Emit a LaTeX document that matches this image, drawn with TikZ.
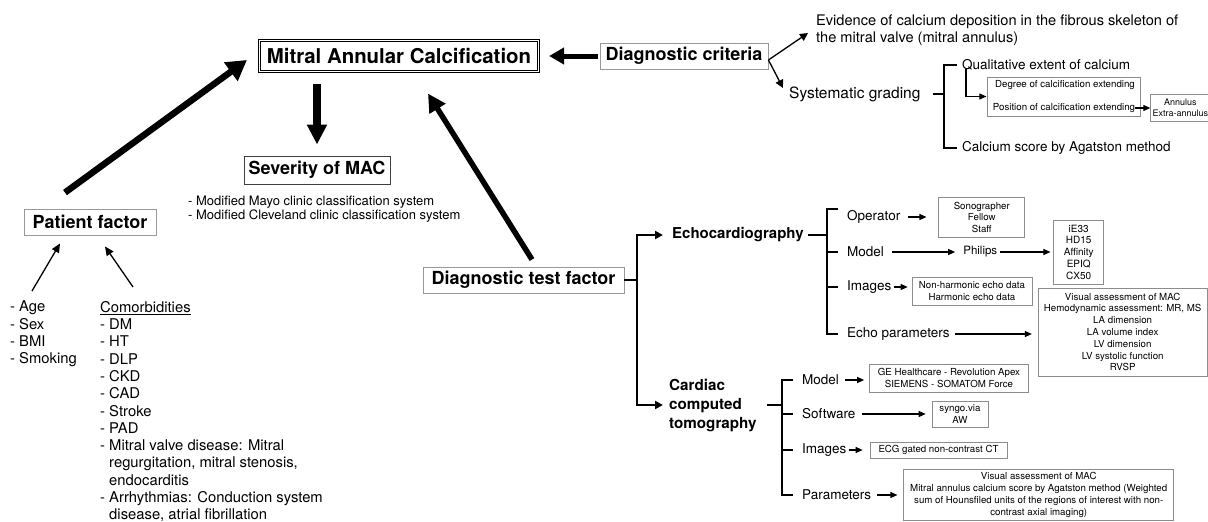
\documentclass[tikz,border=0pt]{standalone}
\usepackage{fontspec}
\setmainfont{TeX Gyre Heros}
\usetikzlibrary{arrows.meta, calc, fit, positioning}
\tikzstyle{mainbox}=[draw, double, line width=1.1pt, double distance=1.1pt, minimum width=279pt, minimum height=31pt, font=\bfseries\fontsize{20.4}{24}\selectfont]
\tikzstyle{factor}=[draw=black!40, line width=0.9pt, minimum height=26pt, inner sep=2pt, font=\bfseries\fontsize{18}{21}\selectfont]
\tikzstyle{txt}=[inner sep=2pt, font=\fontsize{13.5}{16}\selectfont]
\tikzstyle{listtxt}=[inner sep=0pt, align=left, font=\fontsize{14.8}{17.3}\selectfont]
\tikzstyle{small}=[font=\fontsize{9.7}{11.5}\selectfont]
\tikzstyle{infobox}=[small, draw=black!45, line width=0.6pt, align=center, inner sep=2pt]
\tikzstyle{bigarrow}=[line width=6pt, -{Triangle[width=20pt,length=19pt]}]
\tikzstyle{thinarrow}=[line width=1.1pt, -{Triangle[width=6pt,length=7pt]}, shorten <=4pt, shorten >=5pt]
\tikzstyle{bracket}=[line width=2.2pt]
\tikzstyle{brarrow}=[bracket, -{Triangle[width=8pt,length=8pt]}]

\begin{document}
\begin{tikzpicture}[x=1pt, y=-1pt]
    \useasboundingbox (0,0) rectangle (1208,522);

    % Outcome:
    \node[mainbox] (mac) at (399,56) {Mitral Annular Calcification};
    \node[factor, draw=black!75, minimum width=146pt, minimum height=28pt] (sev) at (317,170) {Severity of MAC};
    \node[txt, anchor=west, align=left, font=\fontsize{13}{14}\selectfont] (mod) at (186,209.5) {- Modified Mayo clinic classification system\\- Modified Cleveland clinic classification system};

    % Diagnostic criteria:
    \node[factor, minimum width=168pt] (dc) at (684,56) {Diagnostic criteria};
    \node[txt, anchor=west, align=left, font=\fontsize{14.6}{17}\selectfont] (ev) at (814,30.5) {Evidence of calcium deposition in the fibrous skeleton of\\the mitral valve (mitral annulus)};
    \node[txt, anchor=west, font=\fontsize{15.5}{18}\selectfont] (sg) at (787,94) {Systematic grading};
    \coordinate (sgspine) at (944,94);
    \node[txt, anchor=west] (qe) at (960,65) {Qualitative extent of calcium};
    \node[txt, anchor=west] (cs) at (960,148) {Calcium score by Agatston method};
    \node[small, inner sep=0pt] (deg) at (1065,85) {Degree of calcification extending};
    \node[small, inner sep=0pt] (pos) at (1064,108) {Position of calcification extending};
    \node[infobox, fit=(deg)(pos), inner xsep=5pt, inner ysep=3pt] (degbox) {};
    \node[infobox, font=\fontsize{9}{11}\selectfont, minimum height=27pt, right=15pt of pos] (ann) {Annulus\\Extra-annulus};

    % Patient factor:
    \node[factor, minimum width=132pt] (pf) at (90,222) {Patient factor};
    \node[listtxt, anchor=north west] (agel) at (10,301) {- Age\\- Sex\\- BMI\\- Smoking};
    \node[listtxt, anchor=north west] (coml) at (100,301) {\underline{Comorbidities}\\- DM\\- HT\\- DLP\\- CKD\\- CAD\\- Stroke\\- PAD\\- Mitral valve disease: Mitral\\\phantom{- }regurgitation, mitral stenosis,\\\phantom{- }endocarditis\\- Arrhythmias: Conduction system\\\phantom{- }disease, atrial fibrillation};

    % Diagnostic test factor:
    \node[factor, minimum width=201pt] (dtf) at (523.5,280) {Diagnostic test factor};
    \coordinate (dtfspine) at (637,280);
    \node[txt, anchor=west, font=\bfseries\fontsize{15}{19}\selectfont] (echo) at (670,235) {Echocardiography};
    \node[txt, anchor=west, align=left, font=\bfseries\fontsize{15.2}{19}\selectfont] (cct) at (667,405) {Cardiac\\computed\\tomography};

    % Echocardiography:
    \coordinate (echospine) at (827,235);
    \node[txt, anchor=west] (op) at (845,217) {Operator};
    \node[txt, anchor=west] (md) at (845,252) {Model};
    \node[txt, anchor=west] (im) at (845,287) {Images};
    \node[txt, anchor=west] (ep) at (845,334) {Echo parameters};
    \node[infobox, minimum width=86pt, minimum height=40pt, right=36pt of op] (sfs) {Sonographer\\Fellow\\Staff};
    \node[txt, font=\fontsize{11.5}{13}\selectfont, right=75pt of md] (phil) {Philips};
    \node[infobox, font=\fontsize{10}{11.75}\selectfont, minimum width=50pt, minimum height=64pt, right=54pt of phil] (mdl) {iE33\\HD15\\Affinity\\EPIQ\\CX50};
    \node[infobox, minimum width=120pt, minimum height=28pt, right=18pt of im, yshift=-4pt] (imb) {Non-harmonic echo data\\Harmonic echo data};
    \node[infobox, font=\fontsize{9.7}{11.8}\selectfont, minimum width=169pt, minimum height=88pt, right=86pt of ep, yshift=2pt] (epb) {Visual assessment of MAC\\Hemodynamic assessment: MR, MS\\LA dimension\\LA volume index\\LV dimension\\LV systolic function\\RVSP};

    % Cardiac computed tomography:
    \coordinate (ctspine) at (782,405);
    \node[txt, anchor=west] (cmd) at (800,380) {Model};
    \node[txt, anchor=west] (csw) at (800,414) {Software};
    \node[txt, anchor=west] (cim) at (800,450) {Images};
    \node[txt, anchor=west] (cpar) at (800,495) {Parameters};
    \node[infobox, font=\fontsize{9.7}{12}\selectfont, minimum width=159pt, minimum height=28pt, right=28pt of cmd, yshift=2pt] (geb) {GE Healthcare - Revolution Apex\\SIEMENS - SOMATOM Force};
    \node[infobox, minimum width=56pt, minimum height=26pt, right=74pt of csw] (swb) {syngo.via\\AW};
    \node[infobox, minimum width=137pt, minimum height=16pt, right=21pt of cim] (ecgb) {ECG gated non-contrast CT};
    \node[infobox, font=\fontsize{9.7}{12}\selectfont, minimum width=270pt, minimum height=51pt, right=30pt of cpar] (parb) {Visual assessment of MAC\\Mitral annulus calcium score by Agatston method (Weighted\\sum of Hounsfiled units of the regions of interest with non-\\contrast axial imaging)};

    % Big arrows:
    \draw[bigarrow, line width=6.5pt, -{Triangle[width=22pt,length=20pt]}] ([shift={(-25,-16)}]pf.north) -- ([shift={(-12,4)}]mac.west);
    \draw[bigarrow, line width=5.5pt, -{Triangle[width=18pt,length=18pt]}] ([shift={(8.5,-7)}]dtf.north) -- ([shift={(29,21.5)}]mac.south);
    \draw[bigarrow, line width=5pt, -{Triangle[width=16pt,length=15pt]}] ([xshift=-2pt]dc.west) -- ([xshift=10pt]mac.east);
    \draw[bigarrow, line width=8pt, -{Triangle[width=19pt,length=20pt]}] ($(mac.south -| sev.north)+(0,12)$) -- ($(sev.north)+(0,-11)$);

    % Criteria branches:
    \draw[thinarrow, line width=1.3pt, -{Triangle[width=8pt,length=8pt]}, shorten <=0pt, shorten >=0pt] ([yshift=-4pt]dc.east) -- ([shift={(-6,2.5)}]ev.west);
    \draw[thinarrow, line width=1.3pt, -{Triangle[width=8pt,length=8pt]}, shorten <=0pt, shorten >=0pt] ([yshift=-4pt]dc.east) -- ([shift={(-4,-6)}]sg.west);
    \draw[bracket] ([xshift=10pt]sg.east) -- (sgspine);
    \draw[bracket] ([xshift=-3pt]qe.west) -| (sgspine) |- ([xshift=-3pt]cs.west);
    \draw[thinarrow, shorten <=0pt, shorten >=1pt] ([shift={(6,-4)}]qe.south west) |- (degbox.west);
    \draw[thinarrow, shorten <=0pt, shorten >=0pt] (pos.east) -- (ann.west);

    % Patient factor arrows:
    \draw[thinarrow, line width=1.3pt, -{Triangle[width=8pt,length=9pt]}, shorten <=0pt, shorten >=0pt] ([shift={(22,-10)}]agel.north west) -- ([shift={(-30,8)}]pf.south);
    \draw[thinarrow, line width=1.3pt, -{Triangle[width=8pt,length=9pt]}, shorten <=0pt, shorten >=0pt] ([shift={(33,-14)}]coml.north west) -- ([shift={(15,11)}]pf.south);

    % Test factor bracket:
    \draw[bracket] (dtf.east) -- (dtfspine);
    \draw[brarrow, shorten >=7pt] (dtfspine) |- (echo.west);
    \draw[brarrow, shorten >=4pt] (dtfspine) |- (cct.west);

    % Echo bracket and arrows:
    \draw[bracket] ([xshift=2pt]echo.east) -- (echospine);
    \draw[bracket] ([shift={(-7,-8)}]op.west) -| (echospine) |- ([xshift=-7pt]ep.west);
    \draw[bracket] (echospine |- md.west) -- ([xshift=-7pt]md.west);
    \draw[bracket] (echospine |- im.west) -- ([xshift=-7pt]im.west);
    \draw[thinarrow, shorten <=6pt, shorten >=12pt] (op) -- (sfs);
    \draw[thinarrow, shorten <=6pt, shorten >=6pt] (md) -- (phil);
    \draw[thinarrow, shorten <=1pt, shorten >=3pt] (phil) -- (mdl.west);
    \draw[thinarrow, shorten <=0pt, shorten >=4pt] (im.east) -- (im.east -| imb.west);
    \draw[thinarrow, shorten <=3pt, shorten >=6pt] (ep.east) -- (ep.east -| epb.west);

    % CT bracket and arrows:
    \draw[bracket] ([xshift=8pt]cct.east) -- (ctspine);
    \draw[bracket] ([xshift=-7pt]cmd.west) -| (ctspine) |- ([xshift=-7pt]cpar.west);
    \draw[bracket] (ctspine |- csw.west) -- ([xshift=-7pt]csw.west);
    \draw[bracket] (ctspine |- cim.west) -- ([xshift=-7pt]cim.west);
    \draw[thinarrow] (cmd.east) -- (cmd.east -| geb.west);
    \draw[thinarrow, shorten >=6pt] (csw) -- (swb);
    \draw[thinarrow, shorten <=0pt, shorten >=7pt] (cim) -- (ecgb);
    \draw[thinarrow, shorten >=6pt] (cpar) -- (parb);
\end{tikzpicture}
\end{document}
